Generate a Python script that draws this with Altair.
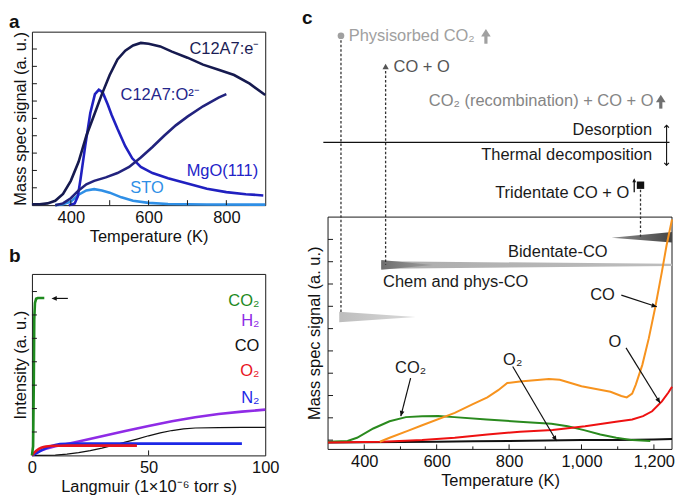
import math
import altair as alt
import pandas as pd

FONT = "Liberation Sans"
FS = 16.5
FRAME = "#1a1a1a"

# ---------------- Panel a data ----------------
a_e_T = [300, 320, 340, 360, 380, 400, 420, 440, 460, 480, 500, 520, 540, 560, 580, 600, 630, 660, 700, 740, 780, 820, 860, 900]
a_e_v = [0.5, 0.5, 1, 2.5, 6.5, 14, 25, 40, 52, 64, 75, 84, 89, 92, 93.5, 93, 91.5, 88.5, 85, 81, 78, 75, 70, 63.5]
a_o_T = [360, 380, 400, 420, 440, 460, 490, 520, 550, 580, 610, 640, 670, 700, 740, 780, 800]
a_o_v = [0, 1, 4, 8.5, 12, 14, 16, 18.5, 22, 27.5, 33.5, 40, 46, 51, 57, 62, 64]
a_m_T = [395, 410, 418, 425, 437, 450, 462, 472, 482, 495, 505, 520, 540, 558, 580, 610, 650, 700, 750, 800, 850, 895]
a_m_v = [0, 1, 5, 15, 34, 53, 64, 66.5, 65, 58, 52, 44, 34, 27, 22, 18.5, 15.5, 12.5, 9.5, 7.5, 6.3, 5.6]
a_s_T = [360, 380, 400, 420, 440, 460, 480, 500, 530, 560, 600, 650, 750, 900]
a_s_v = [0, 0.5, 2, 6, 8.5, 9.2, 8.5, 7.2, 4.5, 2.5, 1.3, 0.7, 0.4, 0.3]
a_colors = ["#2f8fe6", "#2020c0", "#22237e", "#161a4f"]  # STO, MgO, O2-, e-
a_labels = ["C12A7:e\u207b", "C12A7:O\u00b2\u207b", "MgO(111)", "STO"]
a_label_T = [885, 528, 882, 553]
a_label_v = [90, 63.7, 19.4, 10]
a_label_col = ["#1b1d55", "#24268a", "#2323c8", "#2f8fe6"]
a_label_align = ["right", "left", "right", "left"]
a_yticks = [10, 20, 30, 40, 50, 60, 70, 80, 90]
a_xticks = [400, 500, 600, 700, 800]
a_xlabels = [400, 600, 800]

# ---------------- Panel b data ----------------
b_co2_x = [0, 0.5, 0.8, 1.0, 1.3, 1.8, 2.5, 5.3]
b_co2_v = [0, 5, 40, 75, 84, 86.3, 86.7, 86.7]
b_h2_x = [0, 3, 6, 10, 15, 20, 30, 40, 50, 60, 70, 80, 90, 100]
b_h2_v = [0, 2.2, 3.6, 5, 6.3, 7.7, 10.6, 13.5, 16.2, 18.8, 21, 22.8, 24.1, 25.2]
b_co_x = [0, 10, 15, 20, 25, 30, 35, 40, 45, 50, 55, 60, 65, 70, 80, 90, 100]
b_co_v = [0, 0.2, 0.7, 1.5, 2.6, 4, 5.6, 7.3, 9, 10.8, 12.4, 13.7, 14.6, 15.1, 15.3, 15.4, 15.4]
b_o2_x = [0, 1, 2, 3, 4, 5, 6, 8, 10, 12, 15, 20, 30, 45]
b_o2_v = [0, 1.5, 2.7, 3.6, 4.2, 4.6, 4.9, 5.2, 5.3, 5.35, 5.4, 5.4, 5.4, 5.4]
b_n2_x = [0, 2, 4, 6, 8, 10, 12, 15, 20, 40, 60, 90]
b_n2_v = [0, 1.3, 2.8, 4, 5, 5.7, 6.2, 6.4, 6.5, 6.5, 6.5, 6.5]
b_colors = ["#1e8a1e", "#8f2be6", "#111111", "#e8141e", "#1c28e6"]
b_labels = ["CO\u2082", "H\u2082", "CO", "O\u2082", "N\u2082"]
b_label_v = [85.2, 74.2, 60.3, 46.5, 31.7]
b_label_x = 97.5
b_yticks = [12.9, 25.8, 38.7, 51.6, 64.5, 77.4, 90.3]
b_xticks = [50]
b_arrow = [15.4, 86.5, 8.4, 86.5]

# ---------------- Panel c data (box region: v 0..100) ----------------
c_black_T = [300, 400, 500, 600, 700, 800, 900, 1000, 1100, 1200, 1250]
c_black_v = [3.0, 3.1, 3.2, 3.3, 3.5, 3.6, 3.8, 4.0, 4.1, 4.3, 4.5]
c_green_T = [300, 354, 380, 425, 470, 515, 560, 604, 649, 738, 828, 917, 962, 1007, 1052, 1096, 1141, 1190]
c_green_v = [3.3, 3.6, 5.0, 9.0, 12.1, 13.9, 14.3, 14.4, 13.9, 12.9, 11.9, 11.0, 10.0, 8.3, 6.4, 5.0, 4.0, 3.6]
c_red_T = [300, 450, 560, 650, 740, 830, 920, 1010, 1095, 1140, 1170, 1195, 1222, 1240, 1250]
c_red_v = [3.0, 3.3, 4.0, 5.0, 6.4, 7.6, 8.4, 10.0, 11.9, 12.9, 14.3, 16.4, 20.7, 24.5, 27.0]
c_orange_T = [443, 470, 520, 560, 650, 700, 740, 770, 795, 830, 870, 910, 940, 970, 1000, 1040, 1080, 1110, 1125, 1140, 1150, 1168, 1186, 1204, 1222, 1235, 1250]
c_orange_v = [3.3, 5.0, 8.0, 10.4, 15.7, 19.5, 22.4, 25.5, 28.6, 29.2, 29.8, 30.3, 30.0, 28.6, 27.2, 26.0, 24.8, 23.0, 22.4, 24.0, 27.9, 36.4, 47.9, 61.4, 76.4, 87.9, 99.0]
c_colors = ["#111111", "#2a8a1e", "#ee1111", "#f7931e"]

c_wedges = [  # T_left, T_right, top_left, bot_left, top_right, bot_right, c0, c1
    (331, 542, 59.3, 54.7, 57.0, 57.0, "#bdbdbd", "#dadada"),
    (447, 1250, 81.0, 77.8, 79.9, 78.9, "#acacac", "#bdbdbd"),
    (447, 591, 81.5, 77.3, 79.4, 79.4, "#6e6e6e", "#a0a0a0"),
    (1083, 1250, 91.1, 91.1, 93.6, 89.1, "#8c8c8c", "#454545"),
]
c_dash_T = [335.7, 459, 1163]
c_dash_bot_low = [58.7, 79.5, 91.5]

c_lbl_text = ["Bidentate-CO", "Chem and phys-CO"]
c_lbl_T = [797, 452]
c_lbl_v = [85, 71.9]
c_clbl_text = ["CO", "O", "O\u2082", "CO\u2082"]
c_clbl_T = [1058, 1092, 810, 528]
c_clbl_v = [66.4, 46.4, 38.6, 35]
c_arrows = [(1110, 66.4, 1208, 61.4), (1123, 43.7, 1217, 20), (810, 35.7, 931, 3.6), (528, 30.7, 501, 14.3)]
c_yticks = [4, 13.6, 23.2, 32.8, 42.4, 52, 61.6, 71.2, 80.8, 90.4]
c_xticks_major = [400, 600, 800, 1000, 1200]
c_xticks_minor = [500, 700, 900, 1100]

# ---------------- Panel c annotation region above the box (u: 0 = box top .. 100 = panel top) --------
t_text_left = ["Physisorbed CO\u2082", "CO + O"]
t_text_left_T = [357, 481]
t_text_left_u = [97.8, 81.2]
t_text_left_col = ["#a0a0a0", "#555555"]
t_text_right = ["CO\u2082 (recombination) + CO + O", "Desorption", "Thermal decomposition", "Tridentate CO + O"]
t_text_right_T = [1199, 1195, 1195, 1132]
t_text_right_u = [62.4, 46.8, 33.3, 12.9]
t_text_right_col = ["#858585", "#1a1a1a", "#1a1a1a", "#1a1a1a"]
t_heavy_arrows = [(736, 93.5, 101.5, "#a0a0a0"), (1219, 58.5, 66.0, "#707070")]
t_thin_arrow = (1145.6, 13.4, 21.0)
t_hline = (287, 1243, 40.3)
t_darrow = (1235, 28.0, 49.5)
t_circle = (335.7, 97.8)
t_tri = (459, 81.2)
t_square = (1163, 17.2)
c_dash_top_high = [97.8, 81.2, 17.2]
t_panel = (228, 112, "c")

# ---------------- sizes ----------------
WA, HA = 234, 174
WB, HB = 234, 182
WC, HCT, HCB = 345, 186, 233
HC = HCT + HCB
YMAX = 100.0 * HC / HCB


def up(u):
    return 100.0 + u * (YMAX - 100.0) / 100.0 * HCT / HCT


def up_top(u):
    # u is in percent of the annotation band height HCT
    return 100.0 + u * HCT / HCB


HEAD = "M0,0L-0.45,1L0.45,1Z"
CHEV_UP = "M-1,1L0,0L1,1"
CHEV_DN = "M-1,-1L0,0L1,-1"


def angle(x0, y0, x1, y1, xd, yd, W, H):
    dx = (x1 - x0) / (xd[1] - xd[0]) * W
    dy_screen = -(y1 - y0) / (yd[1] - yd[0]) * H
    return math.degrees(math.atan2(dx, -dy_screen)) % 360


def make_axes(xd, yd, xtitle, ytitle, xlabels, xfmt):
    xs = alt.Scale(domain=xd, nice=False, zero=False)
    ys = alt.Scale(domain=yd, nice=False, zero=False)
    xax = alt.Axis(values=xlabels, ticks=False, domain=False, grid=False, labelPadding=4,
                   labelFlush=False, labelOverlap=False, format=xfmt, title=xtitle, titlePadding=3)
    if ytitle is None:
        def Y(f):
            return alt.Y(f, type="quantitative", scale=ys, axis=None)
    else:
        yax = alt.Axis(labels=False, ticks=False, domain=False, grid=False, title=ytitle, titlePadding=3)

        def Y(f):
            return alt.Y(f, type="quantitative", scale=ys, axis=yax, title=ytitle)

    def X(f):
        return alt.X(f, type="quantitative", scale=xs, axis=xax, title=xtitle)
    return X, Y


def lines_df(xs_list, vs_list, colors, xname="T"):
    rows = []
    for xs, vs, c in zip(xs_list, vs_list, colors):
        for i, (x, v) in enumerate(zip(xs, vs)):
            rows.append({xname: x, "v": v, "col": c, "i": i})
    return pd.DataFrame(rows)


def tick_layers(X, Y, xname, yticks, xticks, H, L=5):
    ly = alt.Chart(pd.DataFrame({"v": yticks})).mark_rule(color=FRAME, strokeWidth=1).encode(
        y=Y("v"), x=alt.value(0), x2=alt.value(L))
    lx = alt.Chart(pd.DataFrame({xname: xticks})).mark_rule(color=FRAME, strokeWidth=1).encode(
        x=X(xname), y=alt.value(H), y2=alt.value(H - L))
    return [ly, lx]


# ================= Panel a =================
XA, YA = make_axes([300, 900], [0, 100], "Temperature (K)", "Mass spec signal (a. u.)", a_xlabels, "d")
dfa = lines_df([a_s_T, a_m_T, a_o_T, a_e_T], [a_s_v, a_m_v, a_o_v, a_e_v], a_colors)
a_lines = alt.Chart(dfa).mark_line(strokeWidth=2.6).encode(
    x=XA("T"), y=YA("v"), color=alt.Color("col:N", scale=None), order="i:Q")
dfl = pd.DataFrame({"T": a_label_T, "v": a_label_v, "label": a_labels, "col": a_label_col, "al": a_label_align})
a_txt_r = alt.Chart(dfl[dfl.al == "right"]).mark_text(align="right", baseline="middle", font=FONT, fontSize=FS).encode(
    x=XA("T"), y=YA("v"), text="label:N", color=alt.Color("col:N", scale=None))
a_txt_l = alt.Chart(dfl[dfl.al == "left"]).mark_text(align="left", baseline="middle", font=FONT, fontSize=FS).encode(
    x=XA("T"), y=YA("v"), text="label:N", color=alt.Color("col:N", scale=None))
chart_a = alt.layer(a_lines, a_txt_r, a_txt_l, *tick_layers(XA, YA, "T", a_yticks, a_xticks, HA)).properties(
    width=WA, height=HA, title=alt.TitleParams("a", anchor="start", frame="bounds", offset=0, dx=-4))

# ================= Panel b =================
XB, YB = make_axes([0, 100], [0, 100], "Langmuir (1\u00d710\u207b\u2076 torr s)", "Intensity (a. u.)", [0, 50, 100], "d")
dfb = lines_df([b_co_x, b_h2_x, b_n2_x, b_o2_x, b_co2_x], [b_co_v, b_h2_v, b_n2_v, b_o2_v, b_co2_v],
               [b_colors[2], b_colors[1], b_colors[4], b_colors[3], b_colors[0]], xname="L")
b_widths = {b_colors[2]: 1.2}
dfb["w"] = [b_widths.get(c, 2.6) for c in dfb["col"]]
b_lines = alt.Chart(dfb).mark_line().encode(
    x=XB("L"), y=YB("v"), color=alt.Color("col:N", scale=None), order="i:Q",
    strokeWidth=alt.StrokeWidth("w:Q", scale=None))
dfbl = pd.DataFrame({"L": [b_label_x] * 5, "v": b_label_v, "label": b_labels, "col": b_colors})
b_txt = alt.Chart(dfbl).mark_text(align="right", baseline="middle", font=FONT, fontSize=FS).encode(
    x=XB("L"), y=YB("v"), text="label:N", color=alt.Color("col:N", scale=None))
b_ar_line = alt.Chart(pd.DataFrame({"L": [b_arrow[0]], "L2": [b_arrow[2] + 1.0], "v": [b_arrow[1]]})).mark_rule(
    color="#111", strokeWidth=1.2).encode(x=XB("L"), x2="L2:Q", y=YB("v"))
b_ar_head = alt.Chart(pd.DataFrame({"L": [b_arrow[2]], "v": [b_arrow[3]],
                                    "a": [angle(*b_arrow, [0, 100], [0, 100], WB, HB)]})).mark_point(
    shape=HEAD, filled=True, size=110, color="#111", opacity=1).encode(
    x=XB("L"), y=YB("v"), angle=alt.Angle("a:Q", scale=None))
chart_b = alt.layer(b_lines, b_txt, b_ar_line, b_ar_head, *tick_layers(XB, YB, "L", b_yticks, b_xticks, HB)).properties(
    width=WB, height=HB, title=alt.TitleParams("b", anchor="start", frame="bounds", offset=8, dx=-4))

# ================= Panel c (single layered chart: box below, annotations above) =================
XC, YC = make_axes([300, 1250], [0, YMAX], "Temperature (K)", None, c_xticks_major, ",d")
px_per_T = WC / 950.0
up = up_top
c_layers = []
# frame of the data box
c_layers.append(alt.Chart(pd.DataFrame({"T": [300, 300], "T2": [1250, 1250], "v": [0, 100]})).mark_rule(
    color=FRAME, strokeWidth=1).encode(x=XC("T"), x2="T2:Q", y=YC("v")))
c_layers.append(alt.Chart(pd.DataFrame({"T": [300, 1250], "v": [0, 0], "v2": [100, 100]})).mark_rule(
    color=FRAME, strokeWidth=1).encode(x=XC("T"), y=YC("v"), y2="v2:Q"))
for (tl, tr, tlt, tlb, trt, trb, c0, c1) in c_wedges:
    dfw = pd.DataFrame({"T": [tl, tr], "top": [tlt, trt], "bot": [tlb, trb]})
    c_layers.append(alt.Chart(dfw).mark_area(
        color=alt.Gradient(gradient="linear", x1=0, x2=1, y1=0, y2=0,
                           stops=[alt.GradientStop(color=c0, offset=0), alt.GradientStop(color=c1, offset=1)])
    ).encode(x=XC("T"), y=YC("top"), y2="bot:Q"))
dfd = pd.DataFrame({"T": c_dash_T, "v": [up(u) for u in c_dash_top_high], "v2": c_dash_bot_low})
c_layers.append(alt.Chart(dfd).mark_rule(color="#333", strokeWidth=1.3, strokeDash=[2.5, 2]).encode(
    x=XC("T"), y=YC("v"), y2="v2:Q"))
dfc = lines_df([c_black_T, c_green_T, c_red_T, c_orange_T], [c_black_v, c_green_v, c_red_v, c_orange_v], c_colors)
c_layers.append(alt.Chart(dfc).mark_line(strokeWidth=2).encode(
    x=XC("T"), y=YC("v"), color=alt.Color("col:N", scale=None), order="i:Q"))
c_layers.append(alt.Chart(pd.DataFrame({"T": c_lbl_T, "v": c_lbl_v, "label": c_lbl_text})).mark_text(
    align="left", baseline="middle", font=FONT, fontSize=FS, color="#1a1a1a").encode(
    x=XC("T"), y=YC("v"), text="label:N"))
c_layers.append(alt.Chart(pd.DataFrame({"T": c_clbl_T, "v": c_clbl_v, "label": c_clbl_text})).mark_text(
    align="center", baseline="middle", font=FONT, fontSize=FS, color="#1a1a1a").encode(
    x=XC("T"), y=YC("v"), text="label:N"))
dfa_c = pd.DataFrame({"T": [a[0] for a in c_arrows], "v": [a[1] for a in c_arrows],
                      "T2": [a[2] for a in c_arrows], "v2": [a[3] for a in c_arrows],
                      "a": [angle(*a, [300, 1250], [0, 100], WC, HCB) for a in c_arrows]})
c_layers.append(alt.Chart(dfa_c).mark_rule(color="#111", strokeWidth=1.2).encode(
    x=XC("T"), y=YC("v"), x2="T2:Q", y2="v2:Q"))
c_layers.append(alt.Chart(dfa_c).mark_point(shape=HEAD, filled=True, size=110, color="#111", opacity=1).encode(
    x=XC("T2"), y=YC("v2"), angle=alt.Angle("a:Q", scale=None)))
# inner ticks
c_layers.append(alt.Chart(pd.DataFrame({"v": c_yticks})).mark_rule(color=FRAME, strokeWidth=1).encode(
    y=YC("v"), x=alt.value(0), x2=alt.value(5)))
c_layers.append(alt.Chart(pd.DataFrame({"T": c_xticks_major})).mark_rule(color=FRAME, strokeWidth=1).encode(
    x=XC("T"), y=alt.value(HC), y2=alt.value(HC - 5)))
c_layers.append(alt.Chart(pd.DataFrame({"T": c_xticks_minor})).mark_rule(color=FRAME, strokeWidth=1).encode(
    x=XC("T"), y=alt.value(HC), y2=alt.value(HC - 3)))
# y-axis title of the box
c_layers.append(alt.Chart(pd.DataFrame({"T": [300 - 13.5 / px_per_T], "v": [50],
                                        "label": ["Mass spec signal (a. u.)"]})).mark_text(
    angle=270, align="center", baseline="middle", font=FONT, fontSize=FS, color="#111").encode(
    x=XC("T"), y=YC("v"), text="label:N"))

# annotations above the box
c_layers.append(alt.Chart(pd.DataFrame({"T": [t_hline[0]], "T2": [t_hline[1]], "v": [up(t_hline[2])]})).mark_rule(
    color="#111", strokeWidth=1.2).encode(x=XC("T"), x2="T2:Q", y=YC("v")))
c_layers.append(alt.Chart(pd.DataFrame({"T": t_text_left_T, "v": [up(u) for u in t_text_left_u],
                                        "label": t_text_left, "col": t_text_left_col})).mark_text(
    align="left", baseline="middle", font=FONT, fontSize=FS).encode(
    x=XC("T"), y=YC("v"), text="label:N", color=alt.Color("col:N", scale=None)))
c_layers.append(alt.Chart(pd.DataFrame({"T": t_text_right_T, "v": [up(u) for u in t_text_right_u],
                                        "label": t_text_right, "col": t_text_right_col})).mark_text(
    align="right", baseline="middle", font=FONT, fontSize=FS).encode(
    x=XC("T"), y=YC("v"), text="label:N", color=alt.Color("col:N", scale=None)))
dfh = pd.DataFrame({"T": [a[0] for a in t_heavy_arrows], "v": [up(a[1]) for a in t_heavy_arrows],
                    "v2": [up(a[2] - 2.5) for a in t_heavy_arrows], "vt": [up(a[2]) for a in t_heavy_arrows],
                    "col": [a[3] for a in t_heavy_arrows]})
c_layers.append(alt.Chart(dfh).mark_rule(strokeWidth=3.2).encode(
    x=XC("T"), y=YC("v"), y2="v2:Q", color=alt.Color("col:N", scale=None)))
c_layers.append(alt.Chart(dfh).mark_point(shape="M0,0L-0.7,1.1L0.7,1.1Z", filled=True, size=190, opacity=1).encode(
    x=XC("T"), y=YC("vt"), color=alt.Color("col:N", scale=None)))
dft = pd.DataFrame({"T": [t_thin_arrow[0]], "v": [up(t_thin_arrow[1])], "v2": [up(t_thin_arrow[2] - 1)],
                    "vt": [up(t_thin_arrow[2])]})
c_layers.append(alt.Chart(dft).mark_rule(strokeWidth=1.3, color="#111").encode(x=XC("T"), y=YC("v"), y2="v2:Q"))
c_layers.append(alt.Chart(dft).mark_point(shape=HEAD, filled=True, size=70, opacity=1, color="#111").encode(
    x=XC("T"), y=YC("vt")))
dfdd = pd.DataFrame({"T": [t_darrow[0]], "v": [up(t_darrow[1])], "v2": [up(t_darrow[2])]})
c_layers.append(alt.Chart(dfdd).mark_rule(strokeWidth=1.1, color="#111").encode(x=XC("T"), y=YC("v"), y2="v2:Q"))
c_layers.append(alt.Chart(dfdd).mark_point(shape=CHEV_UP, filled=False, size=22, strokeWidth=1.1, opacity=1,
                                           color="#111").encode(x=XC("T"), y=YC("v2")))
c_layers.append(alt.Chart(dfdd).mark_point(shape=CHEV_DN, filled=False, size=22, strokeWidth=1.1, opacity=1,
                                           color="#111").encode(x=XC("T"), y=YC("v")))
c_layers.append(alt.Chart(pd.DataFrame({"T": [t_circle[0]], "v": [up(t_circle[1])]})).mark_point(
    shape="circle", filled=True, size=45, color="#a0a0a0", opacity=1).encode(x=XC("T"), y=YC("v")))
c_layers.append(alt.Chart(pd.DataFrame({"T": [t_tri[0]], "v": [up(t_tri[1])]})).mark_point(
    shape="triangle-up", filled=True, size=40, color="#555555", opacity=1).encode(x=XC("T"), y=YC("v")))
c_layers.append(alt.Chart(pd.DataFrame({"T": [t_square[0]], "v": [up(t_square[1])]})).mark_point(
    shape="square", filled=True, size=55, color="#111111", opacity=1).encode(x=XC("T"), y=YC("v")))
c_layers.append(alt.Chart(pd.DataFrame({"T": [t_panel[0]], "v": [up(t_panel[1])], "label": [t_panel[2]]})).mark_text(
    align="left", baseline="top", font=FONT, fontSize=19, fontWeight="bold", color="#111").encode(
    x=XC("T"), y=YC("v"), text="label:N"))
chart_c = alt.layer(*c_layers).properties(
    width=WC, height=HC, view=alt.ViewBackground(stroke="transparent"))

left = alt.vconcat(chart_a, chart_b, spacing=0)
chart = alt.hconcat(left, chart_c, spacing=21).properties(padding=0, background="white").configure_view(
    stroke=FRAME, strokeWidth=1).configure_axis(
    labelFont=FONT, titleFont=FONT, labelFontSize=FS, titleFontSize=FS, labelColor="#111", titleColor="#111",
    titleFontWeight="normal").configure_title(font=FONT, fontSize=19, fontWeight="bold", color="#111")

chart.save("out.html", embed_options={"renderer": "svg", "actions": False})
